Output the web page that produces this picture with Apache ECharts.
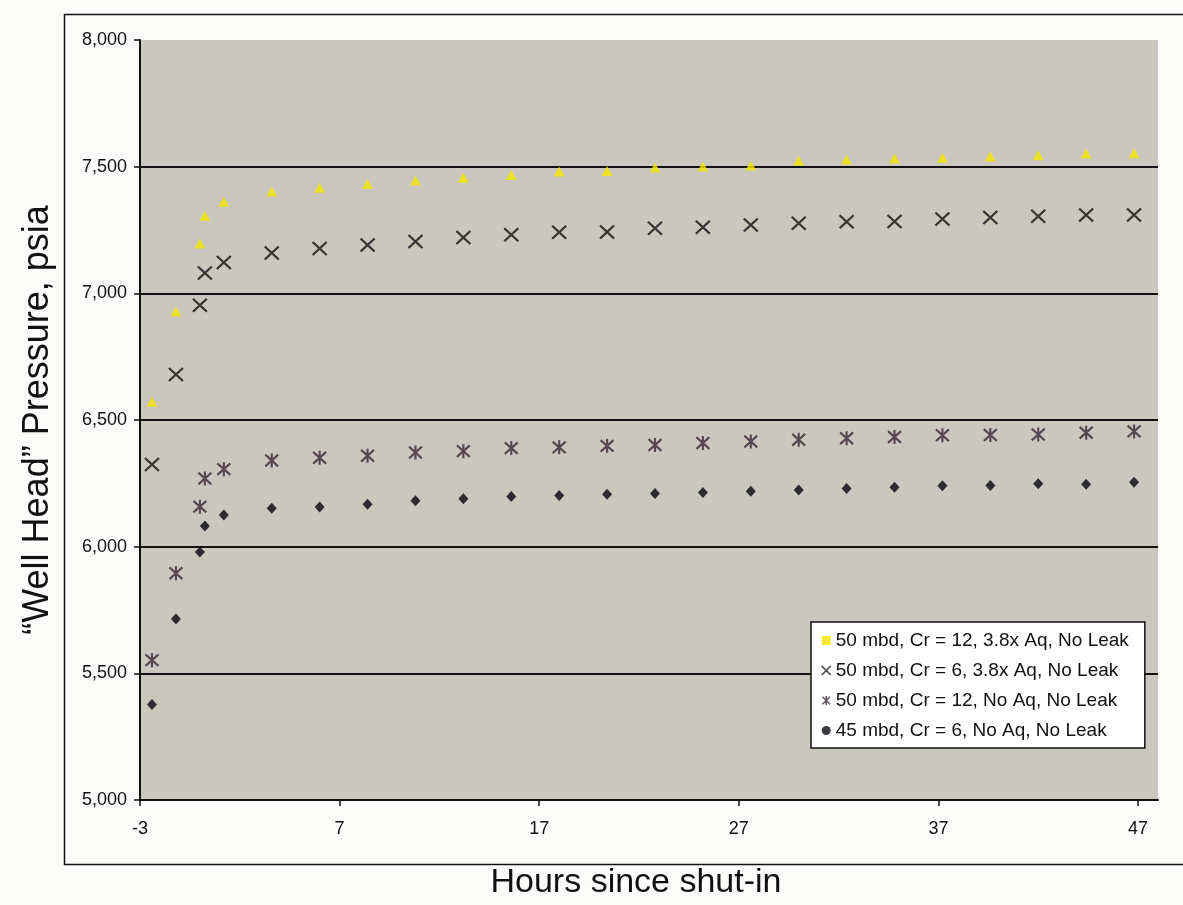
<!DOCTYPE html>
<html>
<head>
<meta charset="utf-8">
<title>Well Head Pressure</title>
<script src="https://cdn.jsdelivr.net/npm/echarts@6/dist/echarts.min.js"></script>
<style>
    html, body { margin: 0; padding: 0; background: #fbfbf9; }
    #chart { width: 1183px; height: 905px; }
</style>
</head>
<body>
<div id="chart"></div>
<script>
// hours since shut-in (shared by all four runs)
var hours = [-2.4, -1.2, 0, 0.25, 1.2, 3.6, 6, 8.4, 10.8, 13.2, 15.6, 18, 20.4, 22.8,
    25.2, 27.6, 30, 32.4, 34.8, 37.2, 39.6, 42, 44.4, 46.8];

// well head pressure, psia
var cr12Aq = [6572, 6928, 7197, 7306, 7362, 7402, 7417, 7432, 7445, 7456, 7467, 7481,
    7483, 7497, 7501, 7505, 7523, 7528, 7532, 7535, 7540, 7545, 7552, 7553];
var cr6Aq = [6324, 6680, 6953, 7080, 7122, 7159, 7177, 7191, 7205, 7220, 7231, 7241,
    7242, 7257, 7261, 7270, 7277, 7283, 7284, 7293, 7299, 7304, 7309, 7309];
var cr12NoAq = [5552, 5895, 6158, 6269, 6306, 6340, 6351, 6359, 6372, 6377, 6389, 6392,
    6398, 6401, 6409, 6415, 6422, 6428, 6433, 6440, 6441, 6443, 6450, 6455];
var cr6NoAq45 = [5377, 5714, 5979, 6082, 6125, 6152, 6157, 6167, 6181, 6189, 6198, 6202,
    6207, 6210, 6214, 6219, 6224, 6230, 6235, 6240, 6241, 6248, 6246, 6254];

var seriesNames = [
    '50 mbd, Cr = 12, 3.8x Aq, No Leak',
    '50 mbd, Cr = 6, 3.8x Aq, No Leak',
    '50 mbd, Cr = 12, No Aq, No Leak',
    '45 mbd, Cr = 6, No Aq, No Leak'
];
var xTicks = [-3, 7, 17, 27, 37, 47];

function pairs(ys) {
    return hours.map(function (h, i) { return [h, ys[i]]; });
}

var crossPath = 'path://M0,0L12,12M12,0L0,12';
var starPath = 'path://M6,0L6,12M1,1L11,11M11,1L1,11';
var font = '"Liberation Sans", Arial, sans-serif';

var chart = echarts.init(document.getElementById('chart'));
var option = {
    backgroundColor: '#fbfbf9',
    animation: false,
    textStyle: { fontFamily: font },
    grid: {
        left: 140,
        right: 25,
        top: 40,
        bottom: 103,
        show: true,
        backgroundColor: '#c9c7be',
        borderWidth: 0
    },
    graphic: [{
        type: 'rect',
        left: 62,
        top: 12,
        shape: { width: 1200, height: 850 },
        style: { fill: 'none', stroke: '#111', lineWidth: 1.5 },
        silent: true,
        z: -1
    }],
    legend: {
        orient: 'vertical',
        left: 811,
        top: 622,
        padding: [9, 16, 8, 10],
        itemGap: 11,
        itemWidth: 9,
        itemHeight: 9,
        backgroundColor: '#ffffff',
        borderColor: '#111',
        borderWidth: 1.5,
        textStyle: { fontSize: 19, color: '#111', lineHeight: 18, fontFamily: font },
        data: [
            { name: seriesNames[0], icon: 'rect', itemStyle: { color: '#f5e600' } },
            { name: seriesNames[1], icon: crossPath,
              itemStyle: { color: 'transparent', borderColor: '#111', borderWidth: 1.5 } },
            { name: seriesNames[2], icon: starPath,
              itemStyle: { color: 'transparent', borderColor: '#3d2d3a', borderWidth: 1.5 } },
            { name: seriesNames[3], icon: 'circle', itemStyle: { color: '#0a0a14' } }
        ]
    },
    xAxis: {
        type: 'value',
        min: -3,
        max: 48,
        name: 'Hours since shut-in',
        nameLocation: 'middle',
        nameGap: 66,
        nameTextStyle: { fontSize: 34, color: '#111', padding: [0, 26, 0, 0] },
        axisLine: { show: true, onZero: false, lineStyle: { color: '#111', width: 2 } },
        axisTick: { show: true, customValues: xTicks, length: 6, lineStyle: { color: '#111', width: 1.5 } },
        axisLabel: { customValues: xTicks, fontSize: 18, color: '#111', margin: 20 },
        splitLine: { show: false }
    },
    yAxis: {
        type: 'value',
        min: 5000,
        max: 8000,
        interval: 500,
        name: '\u201cWell Head\u201d Pressure, psia',
        nameLocation: 'middle',
        nameGap: 84,
        nameTextStyle: { fontSize: 36, color: '#111' },
        axisLine: { show: true, onZero: false, lineStyle: { color: '#111', width: 2 } },
        axisTick: { show: true, length: 6, lineStyle: { color: '#111', width: 1.5 } },
        axisLabel: {
            fontSize: 18,
            color: '#111',
            margin: 13,
            formatter: function (v) { return v.toLocaleString('en-US'); }
        },
        splitLine: {
            show: true,
            showMinLine: false,
            showMaxLine: false,
            lineStyle: { color: '#111', width: 2 }
        }
    },
    series: [{
        name: seriesNames[0],
        type: 'scatter',
        symbol: 'triangle',
        symbolSize: [11, 10],
        itemStyle: { color: '#f5e600' },
        data: pairs(cr12Aq)
    }, {
        name: seriesNames[1],
        type: 'scatter',
        symbol: crossPath,
        symbolSize: [14, 13],
        itemStyle: { color: 'transparent', borderColor: '#111', borderWidth: 2.2 },
        data: pairs(cr6Aq)
    }, {
        name: seriesNames[2],
        type: 'scatter',
        symbol: starPath,
        symbolSize: [13, 14],
        itemStyle: { color: 'transparent', borderColor: '#3a2836', borderWidth: 2.2 },
        data: pairs(cr12NoAq)
    }, {
        name: seriesNames[3],
        type: 'scatter',
        symbol: 'diamond',
        symbolSize: [10, 11],
        itemStyle: { color: '#05050d' },
        data: pairs(cr6NoAq45)
    }]
};
chart.setOption(option);
</script>
</body>
</html>
